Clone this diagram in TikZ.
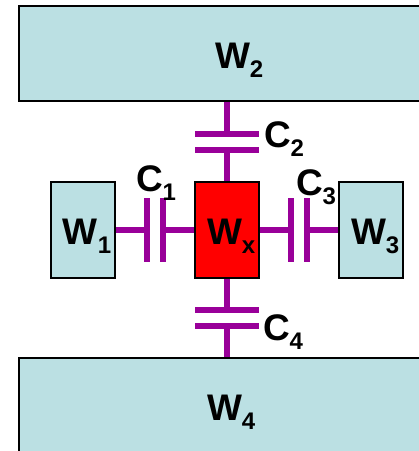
\documentclass[tikz,border=0pt]{standalone}
\usepackage{fontspec}
\setmainfont{Liberation Sans}
\usetikzlibrary{positioning,shadows}
\definecolor{wellblue}{HTML}{BBE0E3}
\definecolor{wirepurple}{HTML}{990099}
\newcommand{\subbed}[2]{#1{\fontsize{24}{24}\selectfont\raisebox{-9pt}{#2}}}
\tikzset{
	box/.style={draw=black,line width=2pt,fill=wellblue,inner sep=0pt,
		drop shadow={shadow xshift=1pt,shadow yshift=-1pt,fill=black!25,opacity=1}},
	wide/.style={box,minimum width=416pt,minimum height=95pt},
	small/.style={box,minimum width=64pt,minimum height=96pt},
	hplate/.style={fill=wirepurple,inner sep=0pt,outer sep=0pt,minimum width=64pt,minimum height=6pt},
	vplate/.style={fill=wirepurple,inner sep=0pt,outer sep=0pt,minimum width=6pt,minimum height=64pt},
	wire/.style={wirepurple,line width=6pt},
	txt/.style={inner sep=0pt,outer sep=0pt,font=\fontsize{37}{37}\selectfont\bfseries,anchor=base west}
}
\begin{document}
\begin{tikzpicture}[x=1pt,y=-1pt,on grid]
		\useasboundingbox (0,0) rectangle (419,451);

		\node[small,fill=red]    (wx)                       at (227,230) {};
		\node[small]             (w1) [left=144pt of wx]    {};
		\node[small]             (w3) [right=144pt of wx]   {};
		\node[wide]              (w2) [above=176.5pt of wx] {};
		\node[wide]              (w4) [below=175.5pt of wx] {};

		\node[hplate]            (c2a) [above=96pt of wx]   {};
		\node[hplate]            (c2b) [above=80pt of wx]   {};
		\node[hplate]            (c4a) [below=80pt of wx]   {};
		\node[hplate]            (c4b) [below=96pt of wx]   {};
		\node[vplate]            (c1a) [left=80pt of wx]    {};
		\node[vplate]            (c1b) [left=64pt of wx]    {};
		\node[vplate]            (c3a) [right=64pt of wx]   {};
		\node[vplate]            (c3b) [right=80pt of wx]   {};

		\path [wire]
		(w2)  edge (c2a)
		(c2b) edge (wx)
		(wx)  edge (c4a)
		(c4b) edge (w4)
		(w1)  edge (c1a)
		(c1b) edge (wx)
		(wx)  edge (c3a)
		(c3b) edge (w3);

		\node[txt] (lw1) at (63,244)  {\subbed{W}{1}};
		\node[txt] (lw2) at (215,68)  {\subbed{W}{2}};
		\node[txt] (lw3) at (351,244) {\subbed{W}{3}};
		\node[txt] (lw4) at (207,420) {\subbed{W}{4}};
		\node[txt] (lwx) at (207,244) {\subbed{W}{x}};
		\node[txt] (lc1) at (136,191) {\subbed{C}{1}};
		\node[txt] (lc2) at (264,147) {\subbed{C}{2}};
		\node[txt] (lc3) at (296,195) {\subbed{C}{3}};
		\node[txt] (lc4) at (263,340) {\subbed{C}{4}};

	\end{tikzpicture}
\end{document}
